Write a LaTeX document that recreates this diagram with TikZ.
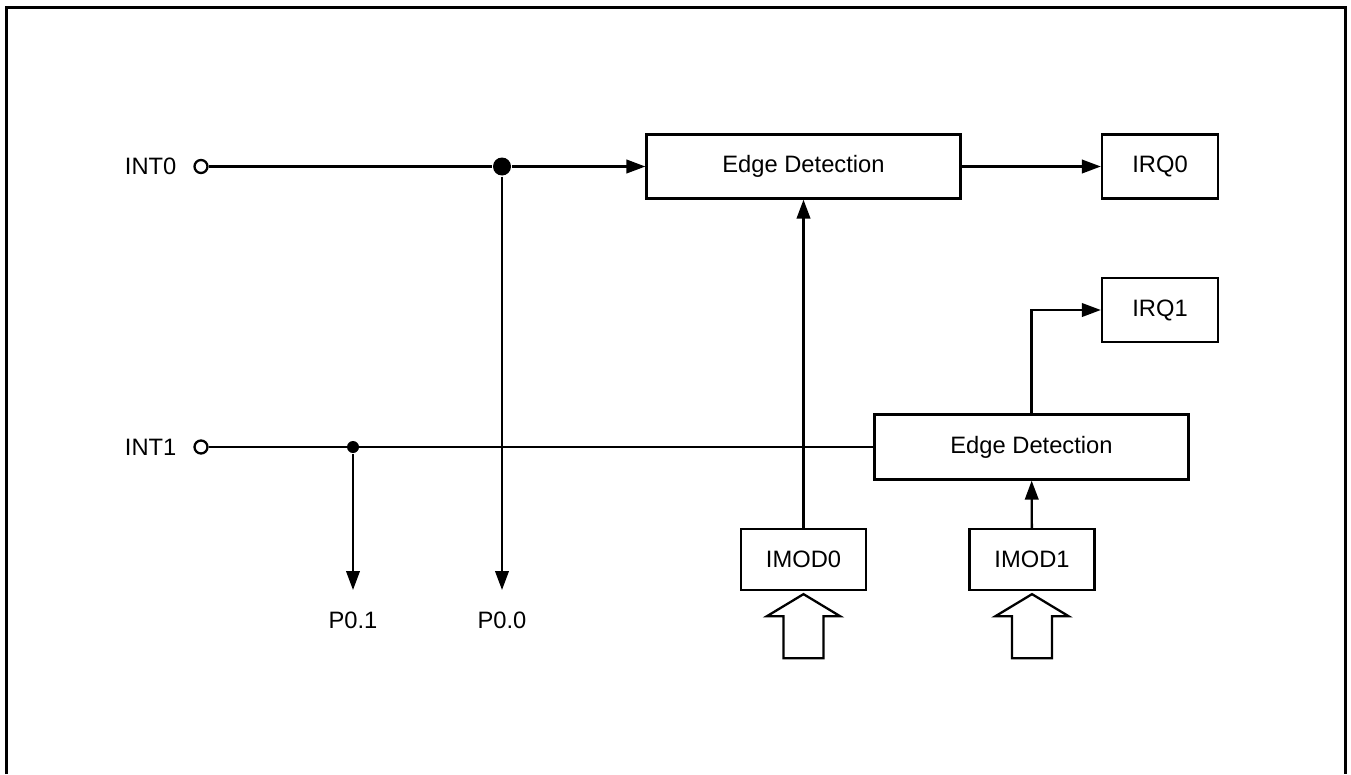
\documentclass[tikz,border=0pt]{standalone}
\usepackage{fontspec}
\setmainfont{Liberation Sans}
\usetikzlibrary{arrows.meta,positioning}

\begin{document}
\begin{tikzpicture}[x=0.02cm, y=-0.02cm, line width=1.3pt,
  font=\fontsize{13.5}{16}\selectfont,
  >={Triangle[length=0.38cm,width=0.27cm]},
  block/.style={draw, minimum width=6.28cm, minimum height=1.28cm},
  small/.style={draw, minimum width=2.32cm, minimum height=1.28cm},
  mode/.style={draw, minimum width=2.5cm, minimum height=1.22cm},
  pin/.style={circle, draw, fill=white, inner sep=0pt, minimum size=0.26cm},
  junction/.style={circle, fill, inner sep=0pt, minimum size=#1}]

  \useasboundingbox (0,0) rectangle (1351,774);

  % Frame
  \draw[line width=1.5pt] (6.5,774) -- (6.5,7.5) -- (1345.5,7.5) -- (1345.5,774);

  % First row
  \node[pin] (I0) at (201,166.5) {};
  \node[left=0.2cm of I0] (L0) {INT0};
  \node[junction=0.36cm] (J0) at (502,166.5) {};
  \node[block] (E0) at (803.5,166.5) {Edge Detection};
  \node[small] (Q0) at (1160,166.5) {IRQ0};

  % Second row
  \node[pin] (I1) at (201,447) {};
  \node[left=0.2cm of I1] (L1) {INT1};
  \node[junction=0.24cm] (J1) at (353,447) {};
  \node[block, minimum height=1.3cm] (E1) at (1031.5,447) {Edge Detection};
  \node[small] (Q1) at (1160,310) {IRQ1};

  % Mode registers
  \node[mode] (M0) at (803.5,559.5) {IMOD0};
  \node[mode] (M1) at (1032,559.5) {IMOD1};

  % Port outputs
  \coordinate (T1) at (353,590);
  \coordinate (T0) at (502,590);
  \node (P1) at (353,620) {P0.1};
  \node (P0) at (502,620) {P0.0};

  % INT0 path
  \draw (I0) -- (J0);
  \draw[->] (J0) -- (E0);
  \draw[->] (E0) -- (Q0);
  \draw[->] (J0) -- (T0);
  \draw[->] (M0) -- (E0);

  % INT1 path
  \draw (I1) -- (E1);
  \draw[->] (J1) -- (T1);
  \draw[->] (M1) -- (E1);
  \draw[->] (E1.north) |- (Q1);

  % Hollow input arrows
  \draw (M0.south) ++(0,3) -- ++(36.5,22) -- ++(-16.5,0) -- ++(0,42)
    -- ++(-40,0) -- ++(0,-42) -- ++(-16.5,0) -- cycle;
  \draw (M1.south) ++(0,3) -- ++(36.5,22) -- ++(-16.5,0) -- ++(0,42)
    -- ++(-40,0) -- ++(0,-42) -- ++(-16.5,0) -- cycle;

\end{tikzpicture}
\end{document}
